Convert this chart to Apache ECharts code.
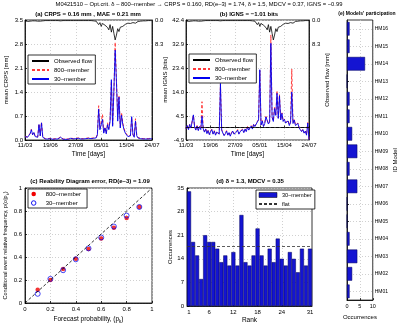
<!DOCTYPE html>
<html>
<head>
<meta charset="utf-8">
<script src="https://cdn.jsdelivr.net/npm/echarts@6/dist/echarts.min.js"></script>
<style>
html, body { margin: 0; padding: 0; background: #fff; }
#main { width: 399px; height: 325px; }
</style>
</head>
<body>
<div id="main"></div>
<script>
// time series sampled every 5 days, 11/03 -> 24/07 (500 days)
var stepDays = 5;
var dateLabels = ['11/03', '19/06', '27/09', '05/01', '15/04', '24/07'];

var obsFlow = [0.3, 0.3, 0.5, 0.3, 0.4, 0.3, 0.3, 0.3, 0.3, 0.3,
  0.4, 0.9, 0.4, 0.7, 0.3, 0.3, 0.2, 0.2, 0.2, 0.2,
  0.2, 0.2, 0.2, 0.2, 0.2, 0.2, 0.2, 0.2, 0.3, 0.2,
  0.2, 0.2, 0.2, 0.2, 0.2, 0.2, 0.2, 0.2, 0.2, 0.2,
  0.2, 0.2, 0.2, 0.2, 0.2, 0.2, 0.2, 0.2, 0.2, 0.2,
  0.2, 0.2, 0.2, 0.2, 0.3, 0.3, 0.4, 0.6, 1.6, 0.9,
  2.2, 1.2, 0.9, 1.8, 1.2, 2.6, 3.4, 1.6, 4.2, 2.2,
  4.6, 6.9, 5.2, 3.0, 4.0, 2.5, 3.0, 2.2, 1.8, 1.5,
  1.3, 1.1, 0.9, 1.2, 1.6, 0.9, 0.7, 1.1, 0.6, 0.5,
  0.4, 0.4, 0.3, 0.3, 0.3, 0.3, 0.2, 0.2, 0.2, 0.2, 0.2];

var crps800 = [0.11, 0.16, 0.09, 0.13, 0.19, 0.31, 0.16, 0.23, 0.11, 0.07,
  0.09, 0.47, 0.13, 0.52, 0.09, 0.05, 0.04, 0.06, 0.04, 0.03,
  0.05, 0.04, 0.03, 0.07, 0.04, 0.03, 0.04, 0.06, 0.09, 0.04,
  0.03, 0.04, 0.03, 0.05, 0.03, 0.04, 0.06, 0.03, 0.04, 0.03,
  0.05, 0.04, 0.06, 0.03, 0.04, 0.07, 0.04, 0.03, 0.05, 0.04,
  0.06, 0.03, 0.05, 0.04, 0.06, 0.09, 0.07, 0.17, 1.00, 0.33,
  0.28, 0.75, 0.22, 0.38, 0.20, 0.50, 0.33, 0.60, 1.70, 0.45,
  1.40, 2.85, 1.75, 0.75, 1.30, 0.40, 0.80, 0.50, 0.33, 0.22,
  0.17, 0.12, 0.09, 0.13, 0.65, 0.17, 0.09, 0.62, 0.13, 0.07,
  0.06, 0.05, 0.06, 0.04, 0.05, 0.04, 0.06, 0.04, 0.09, 0.05, 0.04];

var crps30 = [0.10, 0.15, 0.08, 0.12, 0.18, 0.30, 0.15, 0.22, 0.10, 0.06,
  0.08, 0.45, 0.12, 0.50, 0.08, 0.04, 0.03, 0.05, 0.03, 0.02,
  0.04, 0.03, 0.02, 0.06, 0.03, 0.02, 0.03, 0.05, 0.08, 0.03,
  0.02, 0.03, 0.02, 0.04, 0.02, 0.03, 0.05, 0.02, 0.03, 0.02,
  0.04, 0.03, 0.05, 0.02, 0.03, 0.06, 0.03, 0.02, 0.04, 0.03,
  0.05, 0.02, 0.04, 0.03, 0.05, 0.08, 0.06, 0.15, 0.90, 0.30,
  0.25, 0.60, 0.20, 0.35, 0.18, 0.45, 0.30, 0.55, 1.76, 0.40,
  1.45, 2.62, 1.70, 0.55, 1.25, 0.35, 0.72, 0.45, 0.30, 0.20,
  0.15, 0.10, 0.08, 0.12, 0.68, 0.15, 0.08, 0.55, 0.12, 0.06,
  0.05, 0.04, 0.05, 0.03, 0.04, 0.03, 0.05, 0.03, 0.08, 0.04, 0.03];

var igns800 = [-0.4, 0.9, -0.6, 1.3, 0.0, 0.6, 4.8, 0.4, -0.8, 0.8,
  -1.0, 0.5, -0.6, 10.2, -0.3, -1.6, -0.4, -2.2, -1.0, -2.6,
  -1.4, -0.6, -2.4, -1.2, -2.8, -1.6, -1.0, -2.4, 17.0, -0.8,
  -2.0, -3.0, -2.2, -1.2, -2.8, -1.8, -3.2, -2.0, -1.2, -2.4,
  -2.8, -1.6, -0.8, -2.4, -1.4, -2.0, -0.6, -1.8, -0.4, -1.4,
  0.4, -0.8, -0.2, 0.8, -0.4, 1.4, 0.6, 0.0, 2.4, 3.2,
  22.5, 1.2, 2.8, 0.6, 1.8, 4.4, 3.0, 1.6, 2.4, 36.5,
  4.2, 2.6, 8.0, 5.0, 14.5, 3.8, 13.0, 3.2, 5.8, 2.6,
  3.4, 2.0, 1.6, 2.8, 1.0, 2.2, 23.1, 1.8, 3.2, 1.0,
  0.6, 1.8, 0.0, -0.6, -1.4, -0.6, -2.0, -1.2, -2.8, 2.0, -4.6];

var igns30 = [-0.5, 0.8, -0.8, 1.2, -0.2, 0.5, 5.0, 0.2, -1.0, 0.6,
  -1.2, 0.3, -0.8, 4.5, -0.5, -1.8, -0.6, -2.4, -1.2, -2.8,
  -1.6, -0.8, -2.6, -1.4, -3.0, -1.8, -1.2, -2.6, 17.4, -1.0,
  -2.2, -3.2, -2.4, -1.4, -3.0, -2.0, -3.4, -2.2, -1.4, -2.6,
  -3.0, -1.8, -1.0, -2.6, -1.6, -2.2, -0.8, -2.0, -0.6, -1.6,
  0.2, -1.0, -0.4, 0.6, -0.6, 1.2, 0.4, -0.2, 2.2, 3.0,
  22.8, 1.0, 2.6, 0.4, 1.6, 4.2, 2.8, 1.4, 2.2, 33.2,
  4.0, 2.4, 7.5, 4.8, 13.5, 3.6, 12.5, 3.0, 5.6, 2.4,
  3.2, 1.8, 1.4, 2.6, 0.8, 2.0, 14.0, 1.6, 3.0, 0.8,
  0.4, 1.6, -0.2, -0.8, -1.6, -0.8, -2.2, -1.4, -3.0, 1.8, -4.8];
var ignsRef = 0;

// reliability diagram
var probBins = [0.1, 0.2, 0.3, 0.4, 0.5, 0.6, 0.7, 0.8, 0.9];
var rel800 = [0.115, 0.20, 0.295, 0.385, 0.47, 0.56, 0.655, 0.74, 0.835];
var rel30 = [0.08, 0.21, 0.285, 0.38, 0.475, 0.57, 0.665, 0.76, 0.835];
var diagonal = [0, 1];

// rank histogram
var ranks = ['1', '2', '3', '4', '5', '6', '7', '8', '9', '10', '11', '12', '13', '14', '15', '16',
  '17', '18', '19', '20', '21', '22', '23', '24', '25', '26', '27', '28', '29', '30', '31'];
var rankCounts = [34, 19, 15, 8, 21, 19, 19, 17, 13, 15, 12, 16, 12, 27, 13, 12,
  15, 23, 15, 12, 17, 13, 20, 14, 12, 16, 14, 10, 17, 12, 17];
var rankTicks = ['1', '6', '12', '18', '24', '31'];
var flatLevel = 17.8;

// models' participation
var models = ['HM01', 'HM02', 'HM03', 'HM04', 'HM05', 'HM06', 'HM07', 'HM08',
  'HM09', 'HM10', 'HM11', 'HM12', 'HM13', 'HM14', 'HM15', 'HM16'];
var participation = [1, 2, 4, 1, 0, 0, 4, 1, 4, 2, 1, 1, 0, 7, 1, 1];

var crpsTicks = ['0.0', '0.7', '1.4', '2.1', '2.8', '3.5'];
var ignsTicks = ['-4.9', '4.5', '14.0', '23.4', '32.9', '42.4'];
var flowTicks = ['0.0', '8.3'];

var FONT = '"Liberation Sans", Arial, sans-serif';
var BLUE = '#0000f0';
var RED = '#ff3a3a';

function toPairs(arr) {
  return arr.map(function (v, i) { return [i * stepDays, v]; });
}

function lab(size) {
  return { fontSize: size || 6, color: '#000', fontFamily: FONT };
}

var gridLine = { show: true, lineStyle: { color: '#c4c4c4', type: [1, 2], width: 0.8 } };
var axLine = { show: true, lineStyle: { color: '#000', width: 0.8 } };
var inTick = { show: true, inside: true, length: 2, lineStyle: { color: '#000', width: 0.8 } };

function gridBox(left, top, width, height) {
  return { left: left, top: top, width: width, height: height, show: true,
    borderColor: '#000', borderWidth: 0.8, backgroundColor: '#fff', containLabel: false };
}

function timeAxis(idx) {
  return {
    type: 'value', gridIndex: idx, min: 0, max: 500, interval: 100,
    axisLine: axLine, axisTick: inTick, splitLine: gridLine,
    axisLabel: Object.assign(lab(6), { margin: 2, formatter: function (v) { return dateLabels[Math.round(v / 100)]; } }),
    name: 'Time [days]', nameLocation: 'middle', nameGap: 11, nameTextStyle: lab(6.5)
  };
}

function flowAxis(idx, withName) {
  return {
    type: 'value', gridIndex: idx, position: 'right', inverse: true, min: 0, max: 41.5, interval: 8.3,
    axisLine: axLine, axisTick: { show: false }, splitLine: { show: false },
    axisLabel: Object.assign(lab(6), { margin: 3, formatter: function (v) {
      var k = Math.round(v / 8.3); return k < flowTicks.length ? flowTicks[k] : ''; } }),
    name: withName ? 'Observed flow [mm]' : '', nameLocation: 'middle', nameGap: 15, nameRotate: 90,
    nameTextStyle: lab(6)
  };
}

function lineLegend(left, top) {
  return { left: left, top: top, orient: 'vertical', data: ['Observed flow', '800\u2013member', '30\u2013member'],
    backgroundColor: '#fff', borderColor: '#000', borderWidth: 0.8, padding: [3, 3, 2, 3], itemGap: 3,
    itemWidth: 17, itemHeight: 5, itemStyle: { opacity: 0 }, textStyle: lab(6) };
}

var chart = echarts.init(document.getElementById('main'), null, { renderer: 'canvas' });

var option = {
  backgroundColor: '#fff',
  animation: false,
  textStyle: { fontFamily: FONT },
  title: [
    { text: 'M0421510 \u2013 Opt.crit. \u03b4 \u2013 800\u2013member \u2192 CRPS = 0.160, RD(e\u20133) = 1.74, \u03b4 = 1.5, MDCV = 0.37, IGNS = \u22120.99',
      left: 199, top: 1, textAlign: 'center', padding: 0, textStyle: { fontSize: 5.8, fontWeight: 'normal', color: '#000', fontFamily: FONT } },
    { text: '(a) CRPS = 0.16 mm , MAE = 0.21 mm', left: 88, top: 11, textAlign: 'center', padding: 0,
      textStyle: { fontSize: 6, fontWeight: 'bold', color: '#000', fontFamily: FONT } },
    { text: '(b) IGNS = \u22121.01 bits', left: 249, top: 11, textAlign: 'center', padding: 0,
      textStyle: { fontSize: 6, fontWeight: 'bold', color: '#000', fontFamily: FONT } },
    { text: "(e) Models' participation", left: 367, top: 11, textAlign: 'center', padding: 0,
      textStyle: { fontSize: 5, fontWeight: 'bold', color: '#000', fontFamily: FONT } },
    { text: '(c) Reability Diagram error, RD(e\u20133) = 1.09', left: 90, top: 178, textAlign: 'center', padding: 0,
      textStyle: { fontSize: 6, fontWeight: 'bold', color: '#000', fontFamily: FONT } },
    { text: '(d) \u03b4 = 1.3, MDCV = 0.35', left: 250, top: 178, textAlign: 'center', padding: 0,
      textStyle: { fontSize: 6, fontWeight: 'bold', color: '#000', fontFamily: FONT } }
  ],
  legend: [
    lineLegend(28, 55),
    lineLegend(189, 54),
    { left: 28, top: 189, orient: 'vertical',
      data: [{ name: '800\u2013member', icon: 'circle', itemStyle: { color: '#f00000' } },
        { name: '30\u2013member', icon: 'circle', itemStyle: { color: 'transparent', borderColor: BLUE, borderWidth: 0.9 } }],
      backgroundColor: '#fff', borderColor: '#000', borderWidth: 0.8, padding: [2, 6, 2, 3], itemGap: 3,
      itemWidth: 14, itemHeight: 4.5, textStyle: lab(6) },
    { left: 256, top: 190, orient: 'vertical',
      data: [{ name: '30\u2013member', icon: 'rect', itemStyle: { color: '#1414d2', borderColor: '#000', borderWidth: 0.5, opacity: 1 } },
        { name: 'flat', itemStyle: { opacity: 0 } }],
      backgroundColor: '#fff', borderColor: '#000', borderWidth: 0.8, padding: [2, 3, 2, 2], itemGap: 3,
      itemWidth: 18, itemHeight: 5, textStyle: lab(5.6) }
  ],
  grid: [
    gridBox(25, 20, 127, 120),
    gridBox(186, 20, 123, 120),
    gridBox(25, 188, 127, 119),
    gridBox(187, 188, 125, 119),
    gridBox(347, 20, 31, 282)
  ],
  xAxis: [
    timeAxis(0),
    timeAxis(1),
    { type: 'value', gridIndex: 2, min: 0, max: 1, interval: 0.2,
      axisLine: axLine, axisTick: inTick, splitLine: gridLine, axisLabel: Object.assign(lab(6), { margin: 3 }),
      name: 'Forecast probability, (p{s|k})', nameLocation: 'middle', nameGap: 12,
      nameTextStyle: Object.assign(lab(6.5), { rich: { s: { fontSize: 4.5, padding: [4, 0, 0, 0], fontFamily: FONT } } }) },
    { type: 'category', gridIndex: 3, data: ranks, boundaryGap: true,
      axisLine: axLine,
      axisTick: { show: true, inside: true, length: 2, alignWithLabel: true, lineStyle: { color: '#000', width: 0.8 },
        interval: function (i, v) { return rankTicks.indexOf(v) >= 0; } },
      splitLine: { show: true, alignWithLabel: true, lineStyle: { color: '#c4c4c4', type: [1, 2], width: 0.8 },
        interval: function (i, v) { return rankTicks.indexOf(v) >= 0 && v !== '1' && v !== '31'; } },
      axisLabel: Object.assign(lab(6), { margin: 3, interval: function (i, v) { return rankTicks.indexOf(v) >= 0; } }),
      name: 'Rank', nameLocation: 'middle', nameGap: 11, nameTextStyle: lab(6.5) },
    { type: 'value', gridIndex: 4, min: 0, max: 10, interval: 5,
      axisLine: axLine, axisTick: inTick, splitLine: gridLine, axisLabel: Object.assign(lab(5.5), { margin: 3 }),
      name: 'Occurrences', nameLocation: 'middle', nameGap: 10, nameTextStyle: lab(6) }
  ],
  yAxis: [
    { type: 'value', gridIndex: 0, min: 0, max: 3.5, interval: 0.7,
      axisLine: axLine, axisTick: inTick, splitLine: gridLine,
      axisLabel: Object.assign(lab(6), { margin: 2, formatter: function (v) { return crpsTicks[Math.round(v / 0.7)]; } }),
      name: 'mean CRPS [mm]', nameLocation: 'middle', nameGap: 16, nameTextStyle: lab(6) },
    flowAxis(0, false),
    { type: 'value', gridIndex: 1, min: -4.9, max: 42.4, interval: 9.46,
      axisLine: axLine, axisTick: inTick, splitLine: gridLine,
      axisLabel: Object.assign(lab(6), { margin: 2, formatter: function (v) { return ignsTicks[Math.round((v + 4.9) / 9.46)]; } }),
      name: 'mean IGNS [bits]', nameLocation: 'middle', nameGap: 17, nameTextStyle: lab(6) },
    flowAxis(1, true),
    { type: 'value', gridIndex: 2, min: 0, max: 1, interval: 0.2,
      axisLine: axLine, axisTick: inTick, splitLine: gridLine, axisLabel: Object.assign(lab(6), { margin: 3 }),
      name: 'Conditional event relative frequency, p(o|p{s|k})', nameLocation: 'middle', nameGap: 14,
      nameTextStyle: Object.assign(lab(5.6), { rich: { s: { fontSize: 4, padding: [4, 0, 0, 0], fontFamily: FONT } } }) },
    { type: 'value', gridIndex: 3, min: 0, max: 35, interval: 7,
      axisLine: axLine, axisTick: inTick, splitLine: gridLine, axisLabel: Object.assign(lab(6), { margin: 3 }),
      name: 'Occurrences', nameLocation: 'middle', nameGap: 12, nameTextStyle: lab(6) },
    { type: 'category', gridIndex: 4, data: models, position: 'right',
      axisLine: axLine,
      axisTick: { show: true, inside: false, length: 2, alignWithLabel: true, lineStyle: { color: '#000', width: 0.8 } },
      splitLine: { show: true, alignWithLabel: true, lineStyle: { color: '#c4c4c4', type: [1, 2], width: 0.8 } },
      axisLabel: Object.assign(lab(5), { margin: 2, interval: 0 }),
      name: 'ID Model', nameLocation: 'middle', nameGap: 16, nameRotate: 90, nameTextStyle: lab(6) }
  ],
  series: [
    // (a)
    { name: 'Observed flow', type: 'line', xAxisIndex: 0, yAxisIndex: 1, data: toPairs(obsFlow), symbol: 'none',
      lineStyle: { color: '#000', width: 0.8 }, itemStyle: { color: '#000' } },
    { name: '800\u2013member', type: 'line', xAxisIndex: 0, yAxisIndex: 0, data: toPairs(crps800), symbol: 'none',
      lineStyle: { color: RED, width: 1, type: [3, 2] }, itemStyle: { color: RED } },
    { name: '30\u2013member', type: 'line', xAxisIndex: 0, yAxisIndex: 0, data: toPairs(crps30), symbol: 'none',
      lineStyle: { color: BLUE, width: 0.9 }, itemStyle: { color: BLUE } },
    // (b)
    { name: 'Observed flow', type: 'line', xAxisIndex: 1, yAxisIndex: 3, data: toPairs(obsFlow), symbol: 'none',
      lineStyle: { color: '#000', width: 0.8 }, itemStyle: { color: '#000' } },
    { type: 'line', xAxisIndex: 1, yAxisIndex: 2, data: [], symbol: 'none',
      markLine: { silent: true, symbol: 'none', label: { show: false },
        lineStyle: { color: '#000', width: 0.8, type: [3, 2] }, data: [{ yAxis: ignsRef }] } },
    { name: '800\u2013member', type: 'line', xAxisIndex: 1, yAxisIndex: 2, data: toPairs(igns800), symbol: 'none',
      lineStyle: { color: RED, width: 1, type: [3, 2] }, itemStyle: { color: RED } },
    { name: '30\u2013member', type: 'line', xAxisIndex: 1, yAxisIndex: 2, data: toPairs(igns30), symbol: 'none',
      lineStyle: { color: BLUE, width: 0.9 }, itemStyle: { color: BLUE } },
    // (c)
    { type: 'line', xAxisIndex: 2, yAxisIndex: 4, symbol: 'none', silent: true,
      data: diagonal.map(function (v) { return [v, v]; }),
      lineStyle: { color: '#000', width: 0.8, type: [3, 2] } },
    { name: '800\u2013member', type: 'scatter', xAxisIndex: 2, yAxisIndex: 4, symbol: 'circle', symbolSize: 4.5,
      data: probBins.map(function (p, i) { return [p, rel800[i]]; }), itemStyle: { color: '#f00000' } },
    { name: '30\u2013member', type: 'scatter', xAxisIndex: 2, yAxisIndex: 4, symbol: 'circle', symbolSize: 5,
      data: probBins.map(function (p, i) { return [p, rel30[i]]; }),
      itemStyle: { color: 'transparent', borderColor: BLUE, borderWidth: 0.9 } },
    // (d)
    { name: '30\u2013member', type: 'bar', xAxisIndex: 3, yAxisIndex: 5, data: rankCounts, barCategoryGap: '0%',
      itemStyle: { color: '#1414d2', borderColor: '#00005a', borderWidth: 0.5 } },
    { name: 'flat', type: 'line', xAxisIndex: 3, yAxisIndex: 5, data: [], symbol: 'none',
      lineStyle: { color: '#333', width: 0.8, type: [3, 2] }, itemStyle: { color: '#333' },
      markLine: { silent: true, symbol: 'none', label: { show: false },
        lineStyle: { color: '#333', width: 0.8, type: [3, 2] }, data: [{ yAxis: flatLevel }] } },
    // (e)
    { name: 'participation', type: 'bar', xAxisIndex: 4, yAxisIndex: 6, data: participation, barCategoryGap: '22%',
      itemStyle: { color: '#1414d2', borderColor: '#00005a', borderWidth: 0.5 } }
  ]
};

chart.setOption(option);
</script>
</body>
</html>
